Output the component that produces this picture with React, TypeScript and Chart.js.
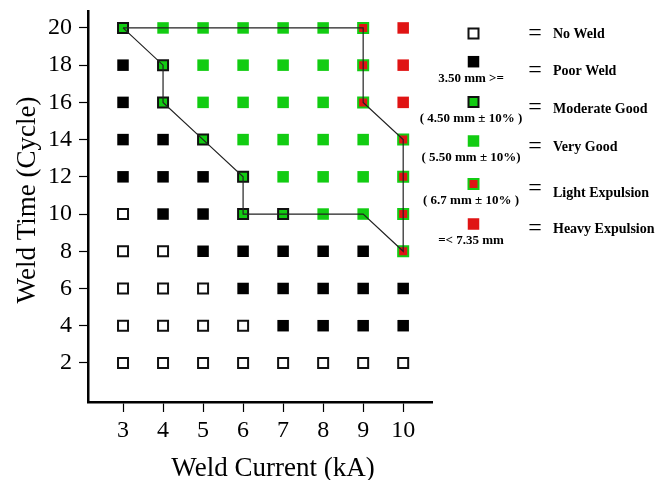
import React, { useEffect, useRef } from 'react';
import { Chart, registerables } from 'chart.js';

Chart.register(...registerables);

// Weld current (kA) columns and weld time (cycle) rows
const currentTicks = [3, 4, 5, 6, 7, 8, 9, 10];
const timeTicks = [2, 4, 6, 8, 10, 12, 14, 16, 18, 20];
const rowTimes = [20, 18, 16, 14, 12, 10, 8, 6, 4, 2];

// Weld quality per row (one letter per current column)
// N no weld, P poor, M moderate good, V very good, L light expulsion, H heavy expulsion
const qualityRows = [
  'MVVVVVLH',
  'PMVVVVLH',
  'PMVVVVLH',
  'PPMVVVVL',
  'PPPMVVVL',
  'NPPMMVVL',
  'NNPPPPPL',
  'NNNPPPPP',
  'NNNNPPPP',
  'NNNNNNNN',
];

// Acceptable weld lobe outline
const boundaryCurrent = [3, 9, 9, 10, 10, 9, 7, 6, 6, 5, 4, 4, 3];
const boundaryTime = [20, 20, 16, 14, 8, 10, 10, 10, 12, 14, 16, 18, 20];

const legendCodes = ['N', 'P', 'M', 'V', 'L', 'H'];
const legendLabels = ['No Weld', 'Poor Weld', 'Moderate Good', 'Very Good', 'Light Expulsion', 'Heavy Expulsion'];
const legendNotes = ['', '3.50 mm >=', '( 4.50 mm \u00b1 10% )', '( 5.50 mm \u00b1 10%)', '( 6.7 mm \u00b1 10% )', '=< 7.35 mm'];

const GREEN = '#12cc12';
const RED = '#e01414';
const SERIF = '"Liberation Serif", "Times New Roman", serif';

type MarkerStyle = { fill: string; stroke: string; width: number };
const markerStyles: Record<string, MarkerStyle> = {
  N: { fill: '#ffffff', stroke: '#111111', width: 2 },
  P: { fill: '#000000', stroke: '#000000', width: 0 },
  M: { fill: GREEN, stroke: '#111111', width: 2 },
  V: { fill: GREEN, stroke: GREEN, width: 0 },
  L: { fill: RED, stroke: GREEN, width: 2 },
  H: { fill: RED, stroke: RED, width: 0 },
};

const pointsFor = (code: string) => {
  const pts: { x: number; y: number }[] = [];
  qualityRows.forEach((row, i) => {
    row.split('').forEach((c, j) => {
      if (c === code) pts.push({ x: currentTicks[j], y: rowTimes[i] });
    });
  });
  return pts;
};

// Legend layout (screen pixels)
const legendLayout = {
  markerX: 473.5,
  markerY: [33.5, 61.7, 102, 141, 184, 224],
  noteX: 471,
  noteBase: [0, 81.5, 121.5, 160.5, 204, 244],
  eqX: 535,
  eqBase: [39.5, 76.5, 114, 152.5, 194.5, 234.5],
  labelX: 553,
  labelBase: [38, 75, 113, 151, 196.5, 233],
};

const overlay = {
  id: 'weldOverlay',
  afterDraw(chart: Chart) {
    const ctx = chart.ctx;
    ctx.save();
    ctx.fillStyle = '#000';

    // axis titles
    ctx.font = `27px ${SERIF}`;
    ctx.textAlign = 'center';
    ctx.textBaseline = 'alphabetic';
    ctx.fillText('Weld Current (kA)', 273, 476);
    ctx.save();
    ctx.translate(35, 200);
    ctx.rotate(-Math.PI / 2);
    ctx.fillText('Weld Time (Cycle)', 0, 0);
    ctx.restore();

    // legend
    const L = legendLayout;
    legendCodes.forEach((code, i) => {
      const st = markerStyles[code];
      const cx = L.markerX;
      const cy = L.markerY[i];
      if (st.width > 0) {
        const s = 10;
        ctx.fillStyle = st.fill;
        ctx.fillRect(cx - s / 2, cy - s / 2, s, s);
        ctx.lineWidth = st.width;
        ctx.strokeStyle = st.stroke;
        ctx.strokeRect(cx - s / 2, cy - s / 2, s, s);
      } else {
        const s = 11.5;
        ctx.fillStyle = st.fill;
        ctx.fillRect(cx - s / 2, cy - s / 2, s, s);
      }
      ctx.fillStyle = '#000';
      if (legendNotes[i]) {
        ctx.font = `bold 13px ${SERIF}`;
        ctx.textAlign = 'center';
        ctx.fillText(legendNotes[i], L.noteX, L.noteBase[i]);
      }
      ctx.font = `24px ${SERIF}`;
      ctx.textAlign = 'center';
      ctx.fillText('=', L.eqX, L.eqBase[i]);
      ctx.font = `bold 14px ${SERIF}`;
      ctx.textAlign = 'left';
      ctx.fillText(legendLabels[i], L.labelX, L.labelBase[i]);
    });
    ctx.restore();
  },
};

export default function App() {
  const canvasRef = useRef<HTMLCanvasElement | null>(null);

  useEffect(() => {
    const canvas = canvasRef.current;
    if (!canvas) return;

    const qualityDatasets = ['N', 'P', 'M', 'V', 'L', 'H'].map((code) => {
      const st = markerStyles[code];
      const side = st.width > 0 ? 10 : 11.5;
      return {
        label: code,
        data: pointsFor(code),
        pointStyle: 'rect' as const,
        pointRadius: side / Math.SQRT2,
        pointHoverRadius: side / Math.SQRT2,
        pointBackgroundColor: st.fill,
        pointBorderColor: st.stroke,
        pointBorderWidth: st.width,
        showLine: false,
        order: 1,
      };
    });

    const boundary = {
      label: 'lobe',
      data: boundaryCurrent.map((x, i) => ({ x, y: boundaryTime[i] })),
      showLine: true,
      borderColor: '#222222',
      borderWidth: 1.2,
      pointRadius: 0,
      fill: false,
      tension: 0,
      order: 0,
    };

    const tickFont = { family: SERIF, size: 24 };

    const chart = new Chart(canvas, {
      type: 'scatter',
      data: { datasets: [boundary, ...qualityDatasets] as any },
      options: {
        responsive: false,
        animation: false,
        events: [],
        layout: { padding: { left: 0, top: 11, right: 661 - 432, bottom: 0 } },
        plugins: {
          legend: { display: false },
          tooltip: { enabled: false },
        },
        scales: {
          x: {
            type: 'linear',
            min: 2.125,
            max: 10.72,
            afterBuildTicks: (s: any) => {
              s.ticks = currentTicks.map((v) => ({ value: v }));
            },
            afterFit: (s: any) => {
              s.height = 78;
              s.paddingLeft = 0;
              s.paddingRight = 0;
            },
            grid: {
              display: true,
              drawOnChartArea: false,
              drawTicks: true,
              tickLength: 10,
              tickWidth: 1.2,
              tickColor: '#000',
            },
            border: { display: true, color: '#000', width: 2.5 },
            ticks: { font: tickFont, color: '#000', padding: 4, maxRotation: 0, autoSkip: false },
          },
          y: {
            type: 'linear',
            min: -0.1,
            max: 20.91,
            afterBuildTicks: (s: any) => {
              s.ticks = timeTicks.map((v) => ({ value: v }));
            },
            afterFit: (s: any) => {
              s.width = 88;
              s.paddingTop = 0;
              s.paddingBottom = 0;
            },
            grid: {
              display: true,
              drawOnChartArea: false,
              drawTicks: true,
              tickLength: 9,
              tickWidth: 1.2,
              tickColor: '#000',
            },
            border: { display: true, color: '#000', width: 2.5 },
            ticks: { font: tickFont, color: '#000', padding: 7, autoSkip: false },
          },
        },
      },
      plugins: [overlay],
    });

    return () => chart.destroy();
  }, []);

  return (
    <div style={{ position: 'absolute', left: 0, top: 0, width: 661, height: 480, background: '#fff' }}>
      <canvas ref={canvasRef} width={661} height={480} style={{ display: 'block' }} />
    </div>
  );
}
